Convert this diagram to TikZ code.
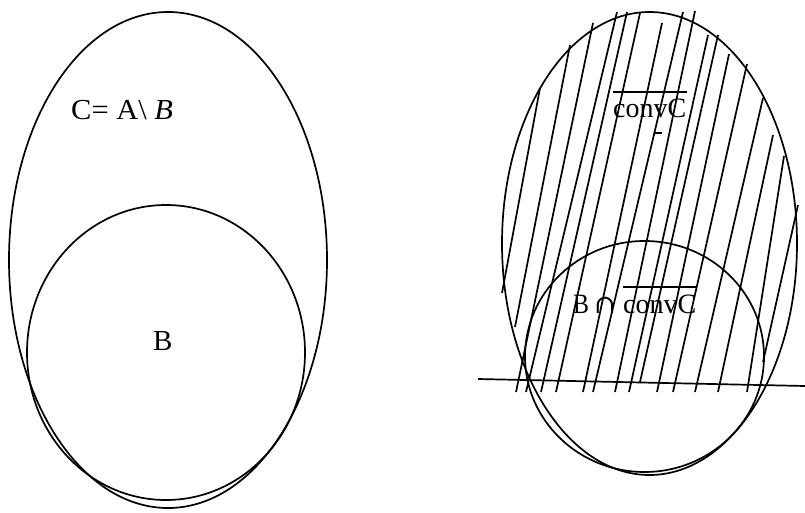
\documentclass[tikz,border=0pt]{standalone}
\usepackage{fontspec}
\setmainfont{Liberation Serif}
\newfontfamily\symfont{DejaVu Serif}
\usetikzlibrary{calc}
\begin{document}
\begin{tikzpicture}[x=1pt,y=-1pt,
  shape line/.style={line width=1.7pt},
  hatch/.style={line width=1.7pt},
  lbl/.style={inner sep=0pt, font=\fontsize{28}{32}\selectfont},
  biglbl/.style={inner sep=0pt, font=\fontsize{29}{33}\selectfont},
  bar/.style={line width=1.9pt}]
\useasboundingbox (0,0) rectangle (805,513);
% ---------- left figure ----------
\draw[shape line] (168,260) ellipse [x radius=159, y radius=248];
\draw[shape line] (166,352.5) ellipse [x radius=139, y radius=147.5];
\node[biglbl, anchor=base west] (cab) at (71,120) {\scalebox{1.05}[1]{C= A\textbackslash\ \textit{B}}};
\node[biglbl, anchor=base west] (lb) at (153,350) {B};
% ---------- right figure ----------
\draw[shape line] (649.5,243.5) ellipse [x radius=147.5, y radius=231.5];
\draw[shape line] (644.5,356.5) ellipse [x radius=119.5, y radius=115.5];
\draw[shape line] (478,379) -- (805,386);
% hatching
\foreach \xa/\ya/\xb/\yb in {
  540/88/502/293, 570/45/515/327, 593/23/516/392, 617/12/526/392,
  627/12/541/392, 640/13/556/392, 662/23/583/392, 683/12/593/392,
  695/11/615/392, 708/35/629/392, 718/35/640/382, 729/54/657/392,
  747/64/673/392, 763/98/695/392, 773/135/718/392, 784/156/747/392,
  798/205/763/362}
  \draw[hatch] (\xa,\ya) -- (\xb,\yb);
% labels
\node[lbl, anchor=base west] (cc) at (613,118) {convC};
\draw[bar] ($(cc.base west)+(0,-26)$) -- ($(cc.base east)+(0,-26)$);
\draw[line width=1.3pt] (655,133) -- (662,133);
\node[lbl, anchor=base west] (bb) at (573,313) {\scalebox{0.85}[1]{B}};
\node[lbl, anchor=base west] (cap) at (594,313) {{\symfont\fontsize{26}{30}\selectfont\char"2229}};
\node[lbl, anchor=base west] (bcc) at (623,313) {convC};
\draw[bar] ($(bcc.base west)+(0,-26)$) -- ($(bcc.base east)+(0,-26)$);
\end{tikzpicture}
\end{document}
